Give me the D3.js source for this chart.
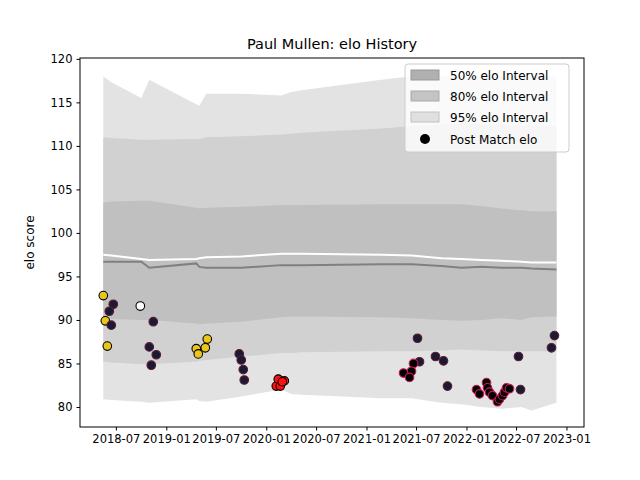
<!DOCTYPE html>
<html><head><meta charset="utf-8">
<script src="https://cdn.jsdelivr.net/npm/d3@7"></script>
<style>
body{margin:0;background:#fff;font-family:"DejaVu Sans",sans-serif;}
text{font-family:"DejaVu Sans",sans-serif;fill:#000;}
</style></head>
<body><svg id="chart" width="640" height="480"></svg>
<script>
// Band grid (decimal years) and interval bounds
var bandYears = [2018.37, 2018.45, 2018.75, 2018.83, 2019.30, 2019.33, 2019.40, 2019.75, 2020.15, 2020.25, 2020.35, 2021.15, 2021.45, 2021.75, 2021.95, 2022.15, 2022.35, 2022.55, 2022.65, 2022.90];
var hi95 = [118, 117.3, 115.5, 117.6, 114.8, 114.6, 116, 116, 115.8, 116.2, 116.4, 117.6, 118, 118, 118, 118, 118, 118, 118, 118];
var lo95 = [80.9, 80.8, 80.6, 80.5, 80.9, 80.7, 80.6, 81.2, 82.0, 81.5, 81.4, 81.0, 81.0, 80.5, 80.3, 80.0, 79.8, 80.0, 79.6, 80.5];
var hi80 = [111, 110.9, 110.7, 110.7, 110.8, 110.8, 111, 111.1, 111.3, 111.4, 111.5, 112, 112.3, 112.5, 112.6, 112.5, 112.4, 112.3, 112.3, 112.3];
var lo80 = [85.2, 85.1, 84.9, 84.9, 85.2, 85.3, 85.4, 85.8, 86.2, 86.2, 86.3, 86.4, 86.4, 86.5, 86.6, 86.5, 86.4, 86.4, 86.4, 86.4];
var hi50 = [103.5, 103.6, 103.7, 103.7, 102.9, 102.8, 102.9, 103.0, 103.2, 103.2, 103.2, 103.3, 103.3, 103.3, 103.3, 103.1, 102.8, 102.6, 102.5, 102.5];
var lo50 = [90.2, 90.1, 90.0, 90.0, 89.6, 89.5, 89.6, 89.8, 90.3, 90.4, 90.4, 90.3, 90.2, 90.0, 89.9, 90.0, 90.2, 90.0, 90.3, 90.4];
var meanElo = [97.5, 97.4, 97.0, 96.9, 97.0, 97.1, 97.2, 97.3, 97.6, 97.6, 97.6, 97.5, 97.4, 97.1, 97.0, 96.9, 96.8, 96.7, 96.6, 96.6];
var medianElo = [96.7, 96.7, 96.7, 96.0, 96.5, 96.1, 96.0, 96.0, 96.3, 96.3, 96.3, 96.4, 96.4, 96.2, 96.0, 96.1, 96.0, 96.0, 95.9, 95.8];

// Post match elo points
var matchYears = [2018.37, 2018.47, 2018.43, 2018.39, 2018.45, 2018.41, 2018.74, 2018.87, 2018.83, 2018.90, 2018.85,
  2019.30, 2019.32, 2019.39, 2019.41, 2019.73, 2019.75, 2019.77, 2019.78, 2020.10, 2020.12, 2020.14, 2020.18, 2020.16,
  2021.51, 2021.53, 2021.47, 2021.45, 2021.37, 2021.43, 2021.69, 2021.77, 2021.81,
  2022.10, 2022.13, 2022.20, 2022.21, 2022.23, 2022.26, 2022.31, 2022.33, 2022.36, 2022.38, 2022.40, 2022.43,
  2022.54, 2022.52, 2022.85, 2022.88];
var matchElo = [92.8, 91.8, 91.0, 89.9, 89.4, 87.0, 91.6, 89.8, 86.9, 86.0, 84.8,
  86.7, 86.1, 86.8, 87.8, 86.1, 85.4, 84.3, 83.1, 82.4, 83.2, 82.4, 83.0, 82.9,
  87.9, 85.2, 85.0, 84.1, 83.9, 83.4, 85.8, 85.3, 82.4,
  82.0, 81.5, 82.8, 82.2, 81.7, 81.3, 80.6, 80.9, 81.3, 81.7, 82.2, 82.1,
  82.0, 85.8, 86.8, 88.2];
var matchKind = ["y", "d", "d", "y", "d", "y", "w", "d", "d", "d", "d",
  "y", "y", "y", "y", "d", "d", "d", "d", "r", "r", "r", "r", "r",
  "d", "d", "c", "c", "c", "c", "d", "d", "d",
  "c", "c", "c", "c", "c", "c", "c", "c", "c", "c", "c", "c",
  "d", "d", "d", "d"];
var kindFill = { y: "#e8c61a", d: "#1a1a33", w: "#ffffff", r: "#ff1010", c: "#000000" };
var kindStroke = { y: "#000", d: "#5c1a33", w: "#000", r: "#000", c: "#c8185a" };

var yTicks = [80, 85, 90, 95, 100, 105, 110, 115, 120];
var xTickLabels = ["2018-07", "2019-01", "2019-07", "2020-01", "2020-07", "2021-01", "2021-07", "2022-01", "2022-07", "2023-01"];

var toDate = function(y) {
  var yr = Math.floor(y);
  var start = new Date(yr, 0, 1), end = new Date(yr + 1, 0, 1);
  return new Date(+start + (y - yr) * (end - start));
};

var margins = { top: 58, right: 56, bottom: 53, left: 80 };
var width = 640, height = 480;
var chartWidth = width - margins.left - margins.right;
var chartHeight = height - margins.top - margins.bottom;

var svg = d3.select("#chart");
var g = svg.append("g").attr("transform", "translate(" + margins.left + "," + margins.top + ")");

var xScale = d3.scaleTime()
  .domain([new Date(2018, 1, 20), new Date(2023, 2, 6)])
  .range([0, chartWidth]);
var yScale = d3.scaleLinear().domain([77.7, 120.1]).range([chartHeight, 0]);

var bands = bandYears.map((y, i) => ({ d: toDate(y), i: i }));
var area = (hi, lo) => d3.area().x(d => xScale(d.d)).y0(d => yScale(lo[d.i])).y1(d => yScale(hi[d.i]));
var line = arr => d3.line().x(d => xScale(d.d)).y(d => yScale(arr[d.i]));

g.append("path").datum(bands).attr("d", area(hi95, lo95)).attr("fill", "#e3e3e3");
g.append("path").datum(bands).attr("d", area(hi80, lo80)).attr("fill", "#d1d1d1");
g.append("path").datum(bands).attr("d", area(hi50, lo50)).attr("fill", "#c0c0c0");
g.append("path").datum(bands).attr("d", line(medianElo)).attr("fill", "none").attr("stroke", "#808080").attr("stroke-width", 2);
g.append("path").datum(bands).attr("d", line(meanElo)).attr("fill", "none").attr("stroke", "#fff").attr("stroke-width", 2);

var pts = matchYears.map((y, i) => ({ d: toDate(y), v: matchElo[i], k: matchKind[i] }));
g.selectAll(".pt").data(pts).enter().append("circle")
  .attr("cx", d => xScale(d.d)).attr("cy", d => yScale(d.v)).attr("r", 4.3)
  .attr("fill", d => kindFill[d.k]).attr("stroke", d => kindStroke[d.k]).attr("stroke-width", 1.1);

// Axes
var xTicks = xTickLabels.map(s => new Date(+s.slice(0, 4), +s.slice(5) - 1, 1));
var xAxis = d3.axisBottom(xScale).tickValues(xTicks).tickFormat(d3.timeFormat("%Y-%m")).tickSize(3.5).tickPadding(4);
var yAxis = d3.axisLeft(yScale).tickValues(yTicks).tickSize(3.5).tickPadding(4);
var gx = g.append("g").attr("transform", "translate(0," + chartHeight + ")").call(xAxis);
var gy = g.append("g").call(yAxis);
[gx, gy].forEach(a => { a.selectAll("text").attr("font-size", 11.5).attr("font-family", "DejaVu Sans"); a.select(".domain").remove(); });
g.append("rect").attr("width", chartWidth).attr("height", chartHeight).attr("fill", "none").attr("stroke", "#000").attr("stroke-width", 1);

svg.append("text").attr("x", margins.left + chartWidth / 2).attr("y", 49).attr("text-anchor", "middle").attr("font-size", 14.5).text("Paul Mullen: elo History");
svg.append("text").attr("transform", "translate(34," + (margins.top + chartHeight / 2) + ") rotate(-90)").attr("text-anchor", "middle").attr("font-size", 12).text("elo score");

// Legend
var legend = svg.append("g").attr("transform", "translate(405,64)");
legend.append("rect").attr("width", 164).attr("height", 88).attr("rx", 3).attr("fill", "#fff").attr("fill-opacity", 0.8).attr("stroke", "#ccc");
var items = [["50% elo Interval", "#b0b0b0"], ["80% elo Interval", "#c4c4c4"], ["95% elo Interval", "#e0e0e0"]];
items.forEach((it, i) => {
  legend.append("rect").attr("x", 6).attr("y", 6 + i * 21).attr("width", 28).attr("height", 10).attr("fill", it[1]).attr("stroke", d3.color(it[1]).darker(0.4));
  legend.append("text").attr("x", 45).attr("y", 16 + i * 21).attr("font-size", 12).text(it[0]);
});
legend.append("circle").attr("cx", 20).attr("cy", 75).attr("r", 5).attr("fill", "#000");
legend.append("text").attr("x", 45).attr("y", 80).attr("font-size", 12).text("Post Match elo");
</script></body></html>
